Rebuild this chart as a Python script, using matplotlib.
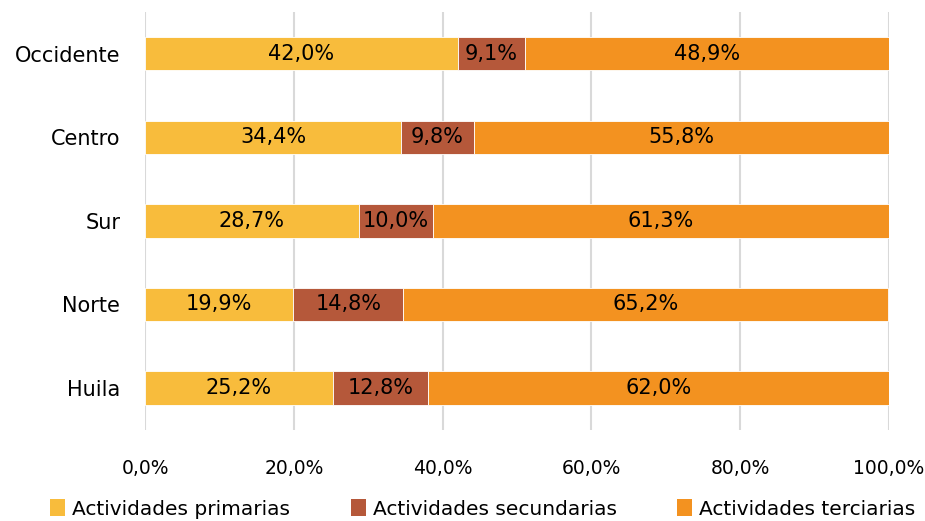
import matplotlib
matplotlib.use("Agg")
import matplotlib.pyplot as plt
from matplotlib.patches import Patch

plt.rcParams['font.family'] = ['DejaVu Sans']

regions = ["Huila", "Norte", "Sur", "Centro", "Occidente"]
primarias = [25.2, 19.9, 28.7, 34.4, 42.0]
secundarias = [12.8, 14.8, 10.0, 9.8, 9.1]
terciarias = [62.0, 65.2, 61.3, 55.8, 48.9]
series_names = ["Actividades primarias", "Actividades secundarias", "Actividades terciarias"]
colors = ["#F8BC3C", "#B5583A", "#F39220"]
xticks = [0, 20, 40, 60, 80, 100]

fig = plt.figure(figsize=(9.25, 5.21), dpi=100)
ax = fig.add_axes([0.157, 0.175, 0.804, 0.802])

y = range(len(regions))
left = [0] * len(regions)
for vals, col in zip([primarias, secundarias, terciarias], colors):
    ax.barh(y, vals, left=left, height=0.4, color=col, edgecolor="white", linewidth=0.6, zorder=3)
    for i, v in enumerate(vals):
        ax.text(left[i] + v / 2, i, f"{v:.1f}%".replace(".", ","), ha="center", va="center",
                fontsize=15, color="black", zorder=4)
    left = [l + v for l, v in zip(left, vals)]

ax.set_xlim(0, 100)
ax.set_ylim(-0.5, len(regions) - 0.5)
ax.set_yticks(list(y))
ax.set_yticklabels(regions, fontsize=15)
ax.set_xticks(xticks)
ax.set_xticklabels([f"{t:.1f}%".replace(".", ",") for t in xticks], fontsize=13.5)
ax.tick_params(axis="y", length=0, pad=18)
ax.tick_params(axis="x", length=0, pad=21)
ax.grid(axis="x", color="#D9D9D9", linewidth=1.5, zorder=0)
for s in ax.spines.values():
    s.set_visible(False)

handles = [Patch(facecolor=c, label=n) for c, n in zip(colors, series_names)]
fig.legend(handles=handles, loc="lower center", bbox_to_anchor=(0.522, -0.03), ncol=3,
           frameon=False, fontsize=14.5, handlelength=0.75, handleheight=0.95,
           handletextpad=0.35, columnspacing=3.0)

fig.savefig("out.png", dpi=100)
